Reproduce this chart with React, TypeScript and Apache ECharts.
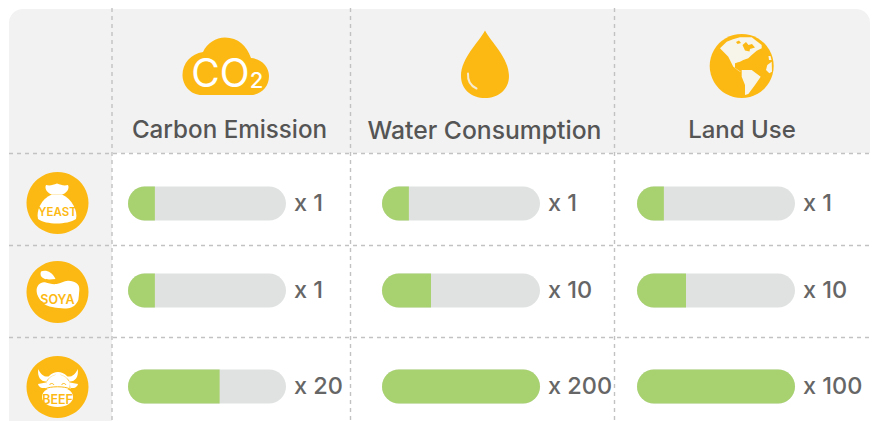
import React, { useEffect, useRef } from "react";
import * as echarts from "echarts";

const metrics = ["Carbon Emission", "Water Consumption", "Land Use"];
const foods = ["YEAST", "SOYA", "BEEF"];
const carbonBars = [17, 17, 58];
const waterBars = [17, 31, 100];
const landBars = [17, 31, 100];
const carbonLabels = ["x 1", "x 1", "x 20"];
const waterLabels = ["x 1", "x 10", "x 200"];
const landLabels = ["x 1", "x 10", "x 100"];

const ORANGE = "#fdb913";
const GREEN = "#a8d26f";
const TRACK = "#e0e2e1";
const FONT = "Inter, 'Noto Sans', sans-serif";

const columnStarts = [128, 382, 637];
const columnCenters = [229.5, 484.5, 742];
const headerSizes = [24.2, 24.7, 24];
const rowCenters = [203.5, 290.5, 386.5];
const barW = 158;
const barH = 34;

const shapes: Record<string, string> = {
  cloud: "M202 95C190 95 182.5 85 182.5 75C182.5 63 191 54 203 52C207 43 216 37.5 225 37.5C238 37.5 247 46 251 58C262 59 269 67 269 76C269 87 261 95 250 95Z",
  drop: "M485 30.5C491 42 509 58 509 76C509 90 498 98 485 98C472 98 461 90 461 76C461 58 479 42 485 30.5Z",
  glint: "M468 73.5C467.5 81 471 86 476.5 88.5",
  america: "M720 48.3L726.7 41.7L733 39.3L740 37.3L751.7 37.3L761.7 45L761.7 48.3L756.7 50.7L751.7 55L748.3 58.3L743.3 60L740 61.7L735 63.3L735 68.3L740 71.7L741 72L733.3 66.7L728.3 56.7L721.7 50ZM741.7 70L751.7 70L760.7 76.7L755 85L748.3 94L745 95L745 85L741.7 76.7ZM771.7 61.7L767.3 65L766 70L769.3 73.3L772 71.7ZM768.5 56L770.5 56L771.5 60L769 60Z",
  arctic: "M736 42L739 40.5L741 43L737.5 44ZM742.5 45L746 42L748.5 45L752 44L755 47.5L750 49L749.5 51.5L745 50.5ZM735 65L738 62.5L741.5 63.5L741 66L738 66.5Z",
  sack: "M51.7 194.5C41 199 36 211 38 219C46 225 67 225 76 219C78 211 72 199 62 194.5Z",
  knot: "M46 185C50 186 53 185 57 183.5C61 185 64 186 68 185C70 189 66 193.5 62 194.5L52 194.5C48 193.5 44 189 46 185Z",
  bean: "M36.7 292C36 285 41 281.5 45 282.3C49 283.5 52.5 284.5 56.7 284C61 283.5 64 280.5 68.3 280.7C75 281 80 284 79.3 290C79 294 78.8 297 78.3 300C76.5 305 72 308 68.3 308.3C63 309 58 308 53.3 307.3C48 306.3 44 304.5 41.7 301.7C38.5 298 37 295 36.7 292Z",
  leaf: "M41 271.5C45 269.5 52 271 55.5 279C51 279.5 46 280 43 278C40.5 276.5 40 274 41 271.5Z",
  bull: "M38.3 369C37 377 41 382 47 381.5C50 376.5 54 374.5 58 374.5C62 374.5 66 376.5 69 381.5C75 382 79 377 77.7 369C75 375 72 377 67.5 376.5C64 373 61 372 58 372C55 372 52 373 48.5 376.5C44 377 41 375 38.3 369ZM38 384L46 382.5L46.5 388L42 388C40 387.5 38.5 386 38 384ZM78 384L70 382.5L69.5 388L74 388C76 387.5 77.5 386 78 384ZM46.5 381C50 376 54 374.5 58 374.5C62 374.5 66 376 69.5 381L70.5 389L45.5 389Z",
  snout: "M57.5 387C65 387 73 390 73 397C73 403 66 407 57.5 407C49 407 42 403 42 397C42 390 50 387 57.5 387Z",
  smile: "M45 389C50 386 65 386 70 389M49.5 385C50.5 383 53 383 54 385M61.5 385C62.5 383 65 383 66 385",
};
Object.keys(shapes).forEach((k) =>
  echarts.graphic.registerShape(k, echarts.graphic.extendPath(shapes[k], {}))
);

const dash = (x1: number, y1: number, x2: number, y2: number) => ({
  type: "line",
  shape: { x1, y1, x2, y2 },
  style: { stroke: "#c2c2c2", lineWidth: 1.4, lineDash: [4, 4] },
  z: 3,
});

export default function App() {
  const ref = useRef<HTMLDivElement>(null);
  useEffect(() => {
    const chart = echarts.init(ref.current!, null, { renderer: "svg" });
    const fills = [carbonBars, waterBars, landBars];
    const labels = [carbonLabels, waterLabels, landLabels];
    const grid: any[] = [], xAxis: any[] = [], yAxis: any[] = [], series: any[] = [];
    metrics.forEach((metric, c) => {
      foods.forEach((food, r) => {
        const i = grid.length;
        grid.push({ left: columnStarts[c], top: rowCenters[r] - barH / 2, width: barW, height: barH });
        xAxis.push({ gridIndex: i, type: "value", min: 0, max: 100, show: false });
        yAxis.push({ gridIndex: i, type: "category", data: [food], show: false });
        const v = fills[c][r];
        series.push({
          type: "bar", name: metric + " track", xAxisIndex: i, yAxisIndex: i, data: [100],
          barWidth: barH, barGap: "-100%", silent: true,
          itemStyle: { color: TRACK, borderRadius: barH / 2 },
          label: {
            show: true, position: "right", distance: 8, offset: [0, -1.5], formatter: labels[c][r],
            color: "#666666", fontFamily: FONT, fontSize: 23.5, fontWeight: 500,
          },
        });
        series.push({
          type: "bar", name: metric, xAxisIndex: i, yAxisIndex: i, data: [v],
          barWidth: barH, barGap: "-100%", silent: true,
          itemStyle: {
            color: GREEN,
            borderRadius: v >= 100 ? barH / 2 : [barH / 2, 0, 0, barH / 2],
          },
        });
      });
    });

    const white = { fill: "#ffffff" };
    const orange = { fill: ORANGE };
    const headerText = metrics.map((m, c) => ({
      type: "text", x: columnCenters[c], y: 129.5, z: 4,
      style: { text: m, fill: "#555555", font: `500 ${headerSizes[c]}px ${FONT}`, align: "center", verticalAlign: "middle" },
    }));
    const foodText = foods.map((f, r) => ({
      type: "text", x: 57.5, y: [211.5, 299, 399][r], z: 6,
      style: { text: f, fill: ORANGE, font: `600 ${[11.5, 12.5, 12.5][r]}px ${FONT}`, align: "center", verticalAlign: "middle" },
    }));
    const circles = rowCenters.map((_, r) => ({
      type: "circle", shape: { cx: 57.5, cy: [203, 292, 387][r], r: 31 }, style: orange, z: 4,
    }));

    chart.setOption({
      animation: false,
      backgroundColor: "#ffffff",
      grid, xAxis, yAxis, series,
      graphic: [
        { type: "rect", shape: { x: 9, y: 9, width: 861, height: 144, r: [14, 14, 0, 0] }, style: { fill: "#f2f2f2" }, z: 0 },
        { type: "rect", shape: { x: 9, y: 153, width: 103, height: 268 }, style: { fill: "#f2f2f2" }, z: 0 },
        dash(112, 8, 112, 421), dash(350.5, 8, 350.5, 421), dash(614.5, 8, 614.5, 421),
        dash(9, 153.5, 870, 153.5), dash(9, 245.5, 870, 245.5), dash(9, 337.5, 870, 337.5),
        ...headerText,
        { type: "cloud", style: orange, z: 4 },
        { type: "text", x: 220.5, y: 72.5, z: 5, style: { text: "CO", fill: "#fff", font: `400 39px ${FONT}`, align: "center", verticalAlign: "middle" } },
        { type: "text", x: 256.5, y: 80, z: 5, style: { text: "2", fill: "#fff", font: `500 22px ${FONT}`, align: "center", verticalAlign: "middle" } },
        { type: "drop", style: orange, z: 4 },
        { type: "glint", z: 5, style: { fill: "none", stroke: "#f7eccf", lineWidth: 2, lineCap: "round" } },
        { type: "circle", shape: { cx: 741.7, cy: 66, r: 32 }, style: orange, z: 4 },
        { type: "america", style: { fill: "#f7f4ea" }, z: 5 },
        { type: "arctic", style: orange, z: 6 },
        ...circles,
        { type: "sack", style: white, z: 5 },
        { type: "knot", style: white, z: 5 },
        { type: "bean", style: white, z: 5 },
        { type: "leaf", style: white, z: 5 },
        { type: "bull", style: white, z: 5 },
        { type: "snout", style: white, z: 5 },
        { type: "smile", z: 6, style: { fill: "none", stroke: ORANGE, lineWidth: 1 } },
        ...foodText,
      ],
    });
    return () => chart.dispose();
  }, []);
  return <div ref={ref} style={{ position: "absolute", left: 0, top: 0, width: 881, height: 421 }} />;
}
